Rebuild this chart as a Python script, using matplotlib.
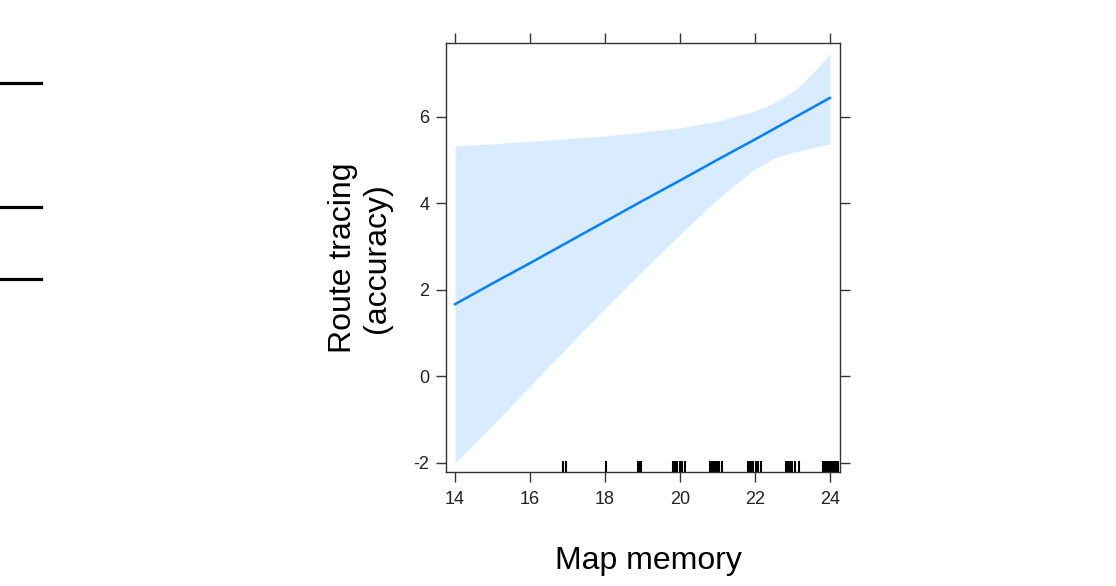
import matplotlib
matplotlib.use("Agg")
import matplotlib.pyplot as plt
from matplotlib.lines import Line2D
import matplotlib.transforms as mtransforms

plt.rcParams['font.family'] = ['Liberation Sans', 'DejaVu Sans']
plt.rcParams['axes.unicode_minus'] = False

# effect of map memory on route tracing accuracy
map_memory = [14, 15, 16, 17, 18, 19, 20, 21, 22, 22.5, 23, 23.25, 23.5, 23.75, 24]
fit = [1.67, 2.15, 2.62, 3.10, 3.58, 4.06, 4.53, 5.01, 5.48, 5.72, 5.96, 6.08, 6.20, 6.32, 6.44]
upper = [5.33, 5.38, 5.44, 5.50, 5.56, 5.65, 5.75, 5.90, 6.14, 6.32, 6.58, 6.76, 6.98, 7.21, 7.47]
lower = [-2.00, -1.13, -0.22, 0.68, 1.57, 2.44, 3.28, 4.10, 4.80, 5.04, 5.18, 5.23, 5.28, 5.33, 5.38]

# rug of observed (jittered) map memory scores
rug_x = [16.88, 16.96, 18.02, 18.88, 18.92, 18.97,
         19.82, 19.86, 19.92, 19.99, 20.06, 20.13,
         20.80, 20.83, 20.86, 20.90, 20.93, 20.98, 21.05, 21.12,
         21.82, 21.85, 21.88, 21.92, 21.95, 22.02, 22.09, 22.15,
         22.83, 22.86, 22.90, 22.94, 22.98, 23.07, 23.17,
         23.82, 23.85, 23.88, 23.91, 23.94, 23.97, 24.00, 24.03,
         24.06, 24.09, 24.12, 24.15, 24.18, 24.21]

x_ticks = [14, 16, 18, 20, 22, 24]
y_ticks = [-2, 0, 2, 4, 6]

fig = plt.figure(figsize=(11.16, 5.86), dpi=100)
ax = fig.add_axes([446 / 1116, 1 - 472 / 586, 394 / 1116, 429 / 586])

ax.fill_between(map_memory, lower, upper, color='#d9ecff', lw=0)
ax.plot(map_memory, fit, color='#0080ff', lw=1.8)

trans = mtransforms.blended_transform_factory(ax.transData, ax.transAxes)
ax.vlines(rug_x, 0, 0.026, transform=trans, color='black', lw=1.5)

ax.set_xlim(13.76, 24.27)
ax.set_ylim(-2.21, 7.71)
ax.set_xticks(x_ticks)
ax.set_yticks(y_ticks)

for s in ax.spines.values():
    s.set_color('#333333')
    s.set_linewidth(1.0)
ax.tick_params(direction='out', length=7, width=1.0, color='#333333',
               top=True, right=True, labeltop=False, labelright=False,
               labelsize=13, labelcolor='#222222')
ax.tick_params(axis='x', pad=7)
ax.tick_params(axis='y', pad=5)

fig.text(360 / 1116, 1 - 258 / 586, 'Route tracing\n(accuracy)', rotation=90,
         ha='center', va='center', fontsize=23, linespacing=1.2)
fig.text(648 / 1116, 1 - 561 / 586, 'Map memory', ha='center', va='center',
         fontsize=23)

# stray marks from the neighbouring panel on the left
for yy in [83, 207, 279]:
    fig.add_artist(Line2D([0, 41 / 1116], [1 - yy / 586, 1 - yy / 586],
                          color='black', lw=2.3, transform=fig.transFigure))

fig.savefig('out.png', dpi=100)
